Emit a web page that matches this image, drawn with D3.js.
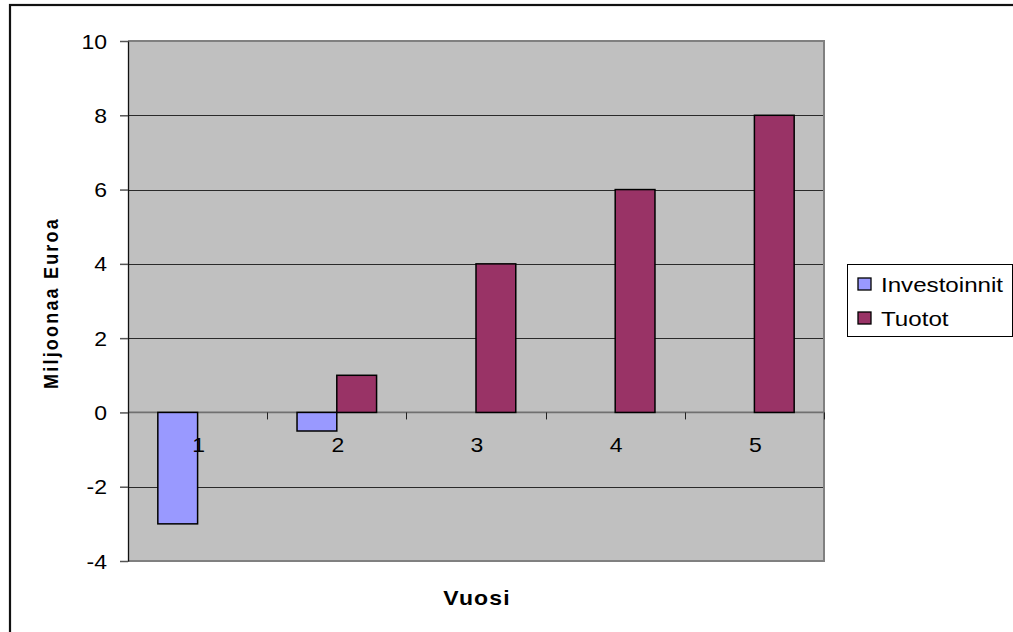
<!DOCTYPE html>
<html>
<head>
<meta charset="utf-8">
<script src="https://cdn.jsdelivr.net/npm/d3@7"></script>
<style>
  html, body { margin: 0; padding: 0; background: #fff; }
  svg { display: block; font-family: "Liberation Sans", Arial, sans-serif; }
</style>
</head>
<body>
<svg id="chart" width="1013" height="632"></svg>
<script>
// ---- data ----
const categories = ["1", "2", "3", "4", "5"];
const seriesNames = ["Investoinnit", "Tuotot"];
const investoinnit = [-3, -0.5, 0, 0, 0];
const tuotot = [0, 1, 4, 6, 8];
const yTicks = [-4, -2, 0, 2, 4, 6, 8, 10];
const seriesColors = ["#9999FF", "#993366"];
const yTitle = "Miljoonaa Euroa";
const xTitle = "Vuosi";

const SX = 1.15; // horizontal stretch of the original rendering
const svg = d3.select("#chart");

// outer frame
svg.append("rect").attr("x", 10).attr("y", 5).attr("width", 1030).attr("height", 660)
  .attr("fill", "none").attr("stroke", "#111").attr("stroke-width", 2.2);

const plot = { left: 128, right: 824, top: 41, bottom: 561 };
const x = d3.scaleBand().domain(categories).range([plot.left, plot.right]).padding(0);
const x1 = d3.scaleBand().domain(seriesNames).range([0, x.bandwidth()])
  .paddingInner(0).paddingOuter(0.75);
const y = d3.scaleLinear().domain([-4, 10]).range([plot.bottom, plot.top]);

// plot background
svg.append("rect").attr("x", plot.left).attr("y", plot.top)
  .attr("width", plot.right - plot.left).attr("height", plot.bottom - plot.top)
  .attr("fill", "#C0C0C0");

// gridlines
svg.append("g").selectAll("line").data(yTicks.filter(d => d !== 0)).join("line")
  .attr("x1", plot.left).attr("x2", plot.right)
  .attr("y1", d => Math.round(y(d)) + 0.5).attr("y2", d => Math.round(y(d)) + 0.5)
  .attr("stroke", "#2a2a2a").attr("stroke-width", 1);

// plot border (right/bottom/top gray)
svg.append("path")
  .attr("d", `M${plot.left},${plot.top}H${plot.right}V${plot.bottom}H${plot.left}`)
  .attr("fill", "none").attr("stroke", "#808080").attr("stroke-width", 2);

// zero axis line
svg.append("line").attr("x1", plot.left).attr("x2", plot.right)
  .attr("y1", y(0)).attr("y2", y(0)).attr("stroke", "#707070").attr("stroke-width", 1.8);

// x tick marks at category boundaries
const bounds = categories.map(c => x(c)).concat([x(categories[categories.length - 1]) + x.bandwidth()]);
svg.append("g").selectAll("line").data(bounds.slice(1)).join("line")
  .attr("x1", d => Math.round(d) + 0.5).attr("x2", d => Math.round(d) + 0.5)
  .attr("y1", y(0)).attr("y2", y(0) + 7)
  .attr("stroke", "#222").attr("stroke-width", 1);

// bars
const rows = categories.map((c, i) => ({ cat: c, values: [investoinnit[i], tuotot[i]] }));
const groups = svg.append("g").selectAll("g").data(rows).join("g")
  .attr("transform", d => `translate(${x(d.cat)},0)`);
groups.selectAll("rect")
  .data(d => d.values.map((v, k) => ({ name: seriesNames[k], v, k })).filter(e => e.v !== 0))
  .join("rect")
  .attr("x", d => x1(d.name))
  .attr("width", x1.bandwidth())
  .attr("y", d => y(Math.max(0, d.v)))
  .attr("height", d => Math.abs(y(d.v) - y(0)))
  .attr("fill", d => seriesColors[d.k])
  .attr("stroke", "#000").attr("stroke-width", 1.5);

// y axis
const yAxis = svg.append("g").attr("transform", `translate(${plot.left},0)`)
  .call(d3.axisLeft(y).tickValues(yTicks).tickSize(8).tickSizeOuter(0).tickFormat(d => String(d)));
yAxis.select(".domain").attr("stroke", "#111").attr("stroke-width", 1.3);
yAxis.selectAll(".tick line").attr("stroke", "#555").attr("stroke-width", 1.5);
yAxis.selectAll(".tick text")
  .attr("x", null).attr("dy", "0.35em")
  .attr("transform", `translate(-21,0) scale(${SX},1)`)
  .attr("font-size", 20).attr("fill", "#000")
  .attr("font-family", "Liberation Sans, Arial, sans-serif");

// category labels
svg.append("g").selectAll("text").data(categories).join("text")
  .attr("transform", d => `translate(${x(d) + x.bandwidth() / 2 + 1},452) scale(${SX},1)`)
  .attr("text-anchor", "middle").attr("font-size", 20).attr("fill", "#000")
  .text(d => d);

// axis titles
svg.append("text")
  .attr("transform", `translate(58,303) scale(${SX},1) rotate(-90)`)
  .attr("text-anchor", "middle").attr("font-size", 18).attr("font-weight", "bold")
  .attr("letter-spacing", 2.2)
  .text(yTitle);
svg.append("text")
  .attr("transform", `translate(477,605) scale(${SX},1)`)
  .attr("text-anchor", "middle").attr("font-size", 20).attr("font-weight", "bold")
  .attr("letter-spacing", 1)
  .text(xTitle);

// legend
const legend = svg.append("g");
legend.append("rect").attr("x", 847.5).attr("y", 264.5).attr("width", 165).attr("height", 72)
  .attr("fill", "#fff").attr("stroke", "#000").attr("stroke-width", 1);
const li = legend.selectAll("g.item").data(seriesNames).join("g").attr("class", "item")
  .attr("transform", (d, i) => `translate(858,${284 + i * 34})`);
li.append("rect").attr("x", 0).attr("y", -6).attr("width", 13).attr("height", 12)
  .attr("fill", (d, i) => seriesColors[i]).attr("stroke", "#000").attr("stroke-width", 1.3);
li.append("text").attr("transform", `translate(23,7.5) scale(${SX},1)`)
  .attr("font-size", 21).attr("fill", "#000").text(d => d);
</script>
</body>
</html>
